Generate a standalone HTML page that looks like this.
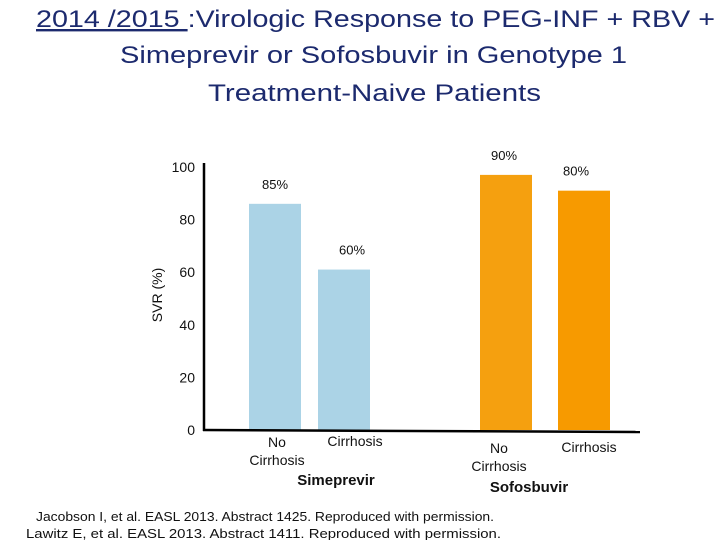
<!DOCTYPE html>
<html><head><meta charset="utf-8"><style>
html,body{margin:0;padding:0;background:#fff;}
svg{display:block;}
</style></head><body>
<svg width="720" height="540" viewBox="0 0 720 540">
<g fill="#1c2a6e" font-family="Liberation Sans, sans-serif" font-size="24">
  <text x="36" y="27" textLength="679" lengthAdjust="spacingAndGlyphs"><tspan text-decoration="underline">2014 /2015 </tspan>:Virologic Response to PEG-INF + RBV  +</text>
  <text x="120" y="63" textLength="507" lengthAdjust="spacingAndGlyphs">Simeprevir or Sofosbuvir in Genotype 1</text>
  <text x="208" y="101" textLength="333" lengthAdjust="spacingAndGlyphs">Treatment-Naive Patients</text>
</g>
<g id="plot"></g>
<g font-family="Liberation Sans, sans-serif" font-size="13" fill="#111">
  <text x="36" y="521" textLength="458" lengthAdjust="spacingAndGlyphs">Jacobson I, et al. EASL 2013. Abstract 1425. Reproduced with permission.</text>
  <text x="26" y="538" textLength="475" lengthAdjust="spacingAndGlyphs">Lawitz E, et al. EASL 2013. Abstract 1411. Reproduced with permission.</text>
</g>
</svg>
<script>
const categories = ["No Cirrhosis (Simeprevir)","Cirrhosis (Simeprevir)","No Cirrhosis (Sofosbuvir)","Cirrhosis (Sofosbuvir)"];
const barValues = [86, 61, 97, 91];
const valueLabels = ["85%","60%","90%","80%"];
const yTicks = [0, 20, 40, 60, 80, 100];

const NS = "http://www.w3.org/2000/svg";
const g = document.getElementById("plot");
const y0 = 430, pxPerUnit = 2.63;
const yScale = v => y0 - v * pxPerUnit;
const barX = [249, 318, 480, 558], barW = 52;
const colors = ["#abd3e6","#abd3e6","#f5a00f","#f79a00"];
const labelDx = [0, 8, -2, -8];
function mk(tag, attrs, text){
  const e = document.createElementNS(NS, tag);
  for (const k in attrs) e.setAttribute(k, attrs[k]);
  if (text !== undefined) e.textContent = text;
  g.appendChild(e); return e;
}
yTicks.forEach((t,i)=>{
  const e = mk("text",{x:195,y:yScale(t)+5,"text-anchor":"end","font-family":"Liberation Sans, sans-serif","font-size":14,fill:"#111"}, String(t));
  
  
});
const yt = mk("text",{x:0,y:0,transform:"translate(162,295) rotate(-90)","text-anchor":"middle","font-family":"Liberation Sans, sans-serif","font-size":14,fill:"#111"},"SVR (%)");


barValues.forEach((v,i)=>{
  const top = yScale(v);
  const r = mk("rect",{x:barX[i],y:top,width:barW,height:y0-top,fill:colors[i]});
  
  
  const t = mk("text",{x:barX[i]+barW/2+labelDx[i],y:top-15,"text-anchor":"middle","font-family":"Liberation Sans, sans-serif","font-size":13,fill:"#111"}, valueLabels[i]);
  
  
});
const ax = mk("line",{x1:204,y1:163,x2:204,y2:431,stroke:"#000","stroke-width":2.5});


const bx = mk("path",{d:"M203 430 L640 432",stroke:"#000","stroke-width":2.5,fill:"none"});


const catText = [
  [277,447,"No",0],[277,465,"Cirrhosis",0],[355,446,"Cirrhosis",0],
  [499,453,"No",0],[499,471,"Cirrhosis",0],[589,452,"Cirrhosis",0],
  [336,485,"Simeprevir",1],[529,492,"Sofosbuvir",1]
];
catText.forEach(c=>{
  const t = mk("text",{x:c[0],y:c[1],"text-anchor":"middle","font-family":"Liberation Sans, sans-serif","font-size":c[3]?15:14,"font-weight":c[3]?"bold":"normal",fill:"#111"}, c[2]);
  
  
});
</script>
</body></html>
